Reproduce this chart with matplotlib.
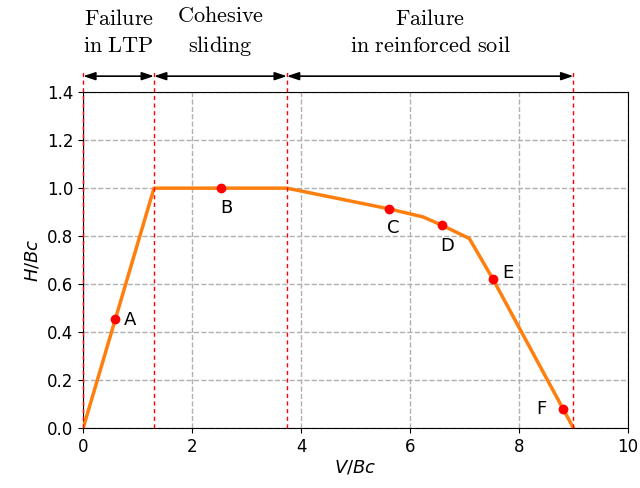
import matplotlib
matplotlib.use("Agg")
import matplotlib.pyplot as plt

plt.rcParams['mathtext.fontset'] = 'dejavusans'

# Envelope curve
curve_v = [0.0, 1.30, 3.74, 4.5, 5.61, 6.24, 6.59, 7.09, 7.52, 9.0]
curve_h = [0.0, 1.00, 1.00, 0.965, 0.914, 0.880, 0.845, 0.790, 0.622, 0.0]

# Marked points
pt_names = ['A', 'B', 'C', 'D', 'E', 'F']
pt_v = [0.59, 2.53, 5.61, 6.59, 7.52, 8.81]
pt_h = [0.455, 1.0, 0.914, 0.845, 0.622, 0.078]
lab_v = [0.86, 2.62, 5.69, 6.68, 7.80, 8.42]
lab_h = [0.45, 0.917, 0.833, 0.758, 0.646, 0.079]

# Zone boundaries and titles
bounds = [0.0, 1.30, 3.74, 9.0]
zone_titles = [r'$\mathrm{Failure}$' + '\n' + r'$\mathrm{in\ LTP}$',
               r'$\mathrm{Cohesive}$' + '\n' + r'$\mathrm{sliding}$',
               r'$\mathrm{Failure}$' + '\n' + r'$\mathrm{in\ reinforced\ soil}$']

fig = plt.figure(figsize=(6.4, 4.88), dpi=100)
ax = fig.add_axes([0.13, 0.123, 0.851, 0.688])

ax.set_xlim(0, 10)
ax.set_ylim(0, 1.4)
ax.set_xticks([0, 2, 4, 6, 8, 10])
ax.set_yticks([0.0, 0.2, 0.4, 0.6, 0.8, 1.0, 1.2, 1.4])
ax.grid(True, linestyle='--', color='#b0b0b0', linewidth=1)
ax.set_axisbelow(True)
ax.tick_params(labelsize=12)

ax.plot(curve_v, curve_h, color='#ff7f0e', linewidth=2.5, zorder=3)
ax.plot(pt_v, pt_h, 'o', color='red', markersize=6, zorder=4)
for n, x, y in zip(pt_names, lab_v, lab_h):
    ax.text(x, y, n, fontsize=13, ha='center', va='center')

for b in bounds:
    ax.plot([b, b], [0, 1.49], color='red', linestyle=(0, (3, 2.5)), linewidth=1,
            clip_on=False, zorder=5)

plt.rcParams['mathtext.fontset'] = 'cm'
for i in range(3):
    ax.annotate('', xy=(bounds[i + 1], 1.467), xytext=(bounds[i], 1.467),
                annotation_clip=False,
                arrowprops=dict(arrowstyle='<|-|>,head_width=0.2,head_length=0.6',
                                color='black', lw=1.2, shrinkA=0, shrinkB=0,
                                mutation_scale=12))
    ax.text((bounds[i] + bounds[i + 1]) / 2, 1.65, zone_titles[i], ha='center',
            va='center', fontsize=16, linespacing=1.45)

plt.rcParams['mathtext.fontset'] = 'dejavusans'
ax.set_xlabel(r'$V/Bc$', fontsize=13, labelpad=2)
ax.set_ylabel(r'$H/Bc$', fontsize=13)

fig.savefig('out.png', dpi=100)
